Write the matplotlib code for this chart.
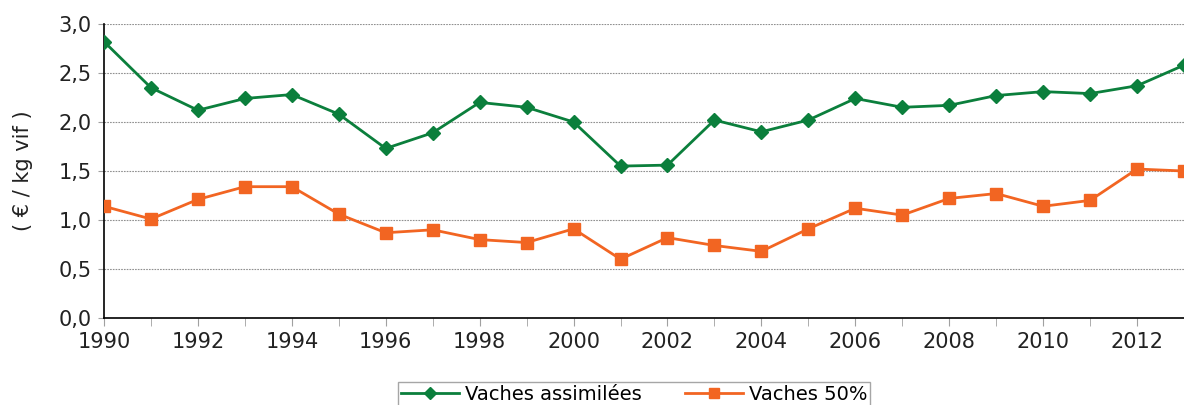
import matplotlib
matplotlib.use("Agg")
import matplotlib.pyplot as plt
from matplotlib.ticker import FuncFormatter, MultipleLocator

# Prix (€/kg vif) par année
years = list(range(1990, 2014))
vaches_assimilees = [2.82, 2.35, 2.12, 2.24, 2.28, 2.08, 1.73, 1.89, 2.20, 2.15, 2.00, 1.55,
                     1.56, 2.02, 1.90, 2.02, 2.24, 2.15, 2.17, 2.27, 2.31, 2.29, 2.37, 2.58]
vaches_50 = [1.14, 1.01, 1.21, 1.34, 1.34, 1.06, 0.87, 0.90, 0.80, 0.77, 0.91, 0.60,
             0.82, 0.74, 0.68, 0.91, 1.12, 1.05, 1.22, 1.27, 1.14, 1.20, 1.52, 1.50]

green = '#0b7f3c'
orange = '#f26522'

plt.rcParams['font.family'] = ['DejaVu Sans']

fig = plt.figure(figsize=(11.84, 4.05), dpi=100)
ax = fig.add_axes([104 / 1184, 1 - 318 / 405, 1 - 104 / 1184, (318 - 24) / 405])

ax.plot(years, vaches_assimilees, color=green, lw=2, marker='D', ms=7.5,
        label='Vaches assimilées', zorder=3)
ax.plot(years, vaches_50, color=orange, lw=2, marker='s', ms=9,
        label='Vaches 50%', zorder=3)

ax.set_xlim(1990, 2013)
ax.set_ylim(0, 3.0)
ax.yaxis.set_major_locator(MultipleLocator(0.5))
ax.yaxis.set_major_formatter(FuncFormatter(lambda v, p: f"{v:.1f}".replace('.', ',')))
ax.set_xticks(range(1990, 2014, 2))
ax.set_xticks(range(1990, 2014), minor=True)

ax.grid(axis='y', color='#909090', linestyle=(0, (1.5, 1)), linewidth=0.8)
ax.set_axisbelow(True)

for s in ['top', 'right']:
    ax.spines[s].set_visible(False)
for s in ['left', 'bottom']:
    ax.spines[s].set_color('black')
    ax.spines[s].set_linewidth(1.2)

ax.tick_params(axis='x', which='both', direction='out', length=6, color='#a0a0a0',
               labelsize=15, pad=4, labelcolor='#222222')
ax.tick_params(axis='y', direction='out', length=4, color='#a0a0a0',
               labelsize=15, pad=5, labelcolor='#222222')

ax.set_ylabel('( € / kg vif )', fontsize=15, color='#222222', labelpad=18)

leg = fig.legend(loc='upper center', bbox_to_anchor=(634 / 1184, 1 - 372 / 405), ncol=2,
                 fontsize=14, frameon=True, fancybox=False, edgecolor='#909090',
                 handlelength=3, handletextpad=0.3, columnspacing=2.2,
                 borderpad=0.15, markerscale=0.85)
leg.get_frame().set_linewidth(1.0)

fig.savefig('out.png', dpi=100)
